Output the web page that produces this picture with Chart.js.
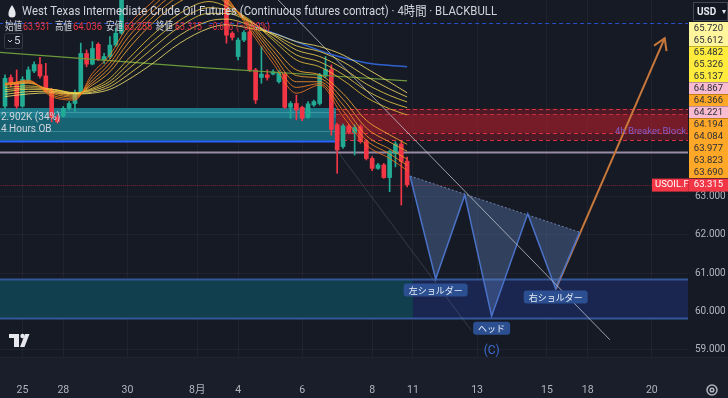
<!DOCTYPE html>
<html>
<head>
<meta charset="utf-8">
<script src="https://cdn.jsdelivr.net/npm/chart.js@4.4.0/dist/chart.umd.min.js"></script>
<style>
html, body { margin: 0; padding: 0; background: #161a25; }
#grafico { display: block; }
</style>
</head>
<body>
<canvas id="grafico" width="728" height="398"></canvas>
<script>
// Velas de 4 horas (null = fora da área visível)
const abertura = [65.37, 66.12, 65.98, 65.37, 66.05, 66.29, 66.46, 66.16, 65.78, 65.08, 65.11, 65.31, 65.44, 65.72, 66.75, 66.47, 66.99, 66.58, 66.67, 66.97, 67.28,
    null, null, null, null, null, null, null, null, null, null, null, null, null, null, null, null, null,
    68.40, 67.28, 66.67, 67.10, 67.32, 66.32, 66.12, 66.19, 66.21, 66.01, 66.21, 65.34, 65.44, 65.34, 65.08, 65.40, 65.44, 66.16, 66.33, 64.88, 64.31, 64.85, 64.68, 64.83, 64.44, 64.00, 63.74, 63.83, 63.50, 64.12, 64.38, 63.931];
const maxima = [66.19, 66.19, 66.32, 66.14, 66.40, 66.53, 66.65, 66.49, 65.84, 65.14, 65.36, 65.49, 65.79, 67.02, 66.84, 67.06, 67.03, 66.75, 67.19, 67.41, 68.50,
    null, null, null, null, null, null, null, null, null, null, null, null, null, null, null, null, null,
    68.60, 67.32, 67.15, 67.35, 67.45, 66.36, 66.93, 66.32, 66.32, 66.30, 66.25, 65.49, 65.66, 65.37, 65.49, 65.53, 66.23, 66.67, 66.45, 64.92, 64.90, 64.90, 64.88, 64.88, 64.48, 64.05, 63.87, 63.87, 64.22, 64.44, 64.44, 64.036];
const minima = [65.31, 65.88, 65.31, 65.34, 66.01, 66.25, 66.10, 65.75, 64.96, 64.92, 65.08, 65.27, 65.23, 65.71, 66.40, 66.45, 66.56, 66.49, 66.62, 66.93, 67.25,
    null, null, null, null, null, null, null, null, null, null, null, null, null, null, null, null, null,
    67.02, 67.10, 66.58, 67.06, 66.27, 65.44, 65.97, 66.05, 66.19, 65.97, 65.31, 65.05, 65.01, 64.99, 65.05, 65.36, 65.40, 66.12, 64.61, 63.61, 64.26, 64.64, 64.09, 64.40, 63.96, 63.68, 63.71, 63.48, 63.13, 63.78, 62.78, 63.255];
const fechamento = [66.10, 65.97, 65.37, 66.07, 66.32, 66.46, 66.16, 65.78, 65.08, 64.96, 65.31, 65.44, 65.72, 66.75, 66.47, 66.88, 66.60, 66.67, 66.97, 67.28, 68.35,
    null, null, null, null, null, null, null, null, null, null, null, null, null, null, null, null, null,
    67.23, 67.17, 67.10, 67.30, 66.32, 65.53, 66.21, 66.12, 66.27, 66.25, 65.34, 65.44, 65.27, 65.05, 65.43, 65.49, 66.19, 66.33, 64.76, 64.22, 64.85, 64.68, 64.81, 64.44, 64.00, 63.74, 63.83, 63.50, 64.18, 64.38, 63.92, 63.315];

// Eixos
const rotulosDatas = ['25', '28', '30', '8月', '4', '6', '8', '11', '13', '15', '18', '20'];
const posicoesDatas = [3, 10, 21, 33, 40, 51, 63, 70, 81, 93, 100, 111];
const ticksPreco = [59, 60, 61, 62, 63];

// Fita de médias móveis
const fitaIdx = [0, 4, 8, 12, 15, 18, 21, 25, 30, 35, 38, 42, 46, 50, 54, 58, 62, 66, 69];
const fitaLaranja1 = [65.92, 66.05, 65.62, 65.53, 66.23, 66.71, 67.45, 68.06, 68.67, 68.76, 68.24, 67.36, 66.49, 65.71, 65.92, 65.10, 64.35, 64.00, 63.69];
const fitaLaranja2 = [65.95, 66.03, 65.66, 65.56, 66.14, 66.60, 67.30, 67.93, 68.54, 68.68, 68.20, 67.43, 66.60, 65.86, 65.96, 65.25, 64.48, 64.12, 63.82];
const fitaLaranja3 = [65.97, 66.01, 65.71, 65.60, 66.05, 66.49, 67.15, 67.80, 68.41, 68.59, 68.15, 67.50, 66.71, 66.01, 66.01, 65.40, 64.60, 64.25, 63.98];
const fitaLaranja4 = [65.94, 65.99, 65.75, 65.63, 65.98, 66.38, 67.00, 67.65, 68.26, 68.48, 68.10, 67.54, 66.82, 66.17, 66.10, 65.55, 64.80, 64.43, 64.19];
const fitaLaranja5 = [65.92, 65.97, 65.78, 65.66, 65.92, 66.27, 66.84, 67.50, 68.11, 68.37, 68.06, 67.58, 66.93, 66.32, 66.19, 65.70, 65.00, 64.62, 64.37];
const fitaAmarela1 = [65.86, 65.90, 65.81, 65.71, 65.84, 66.10, 66.58, 67.19, 67.80, 68.11, 67.98, 67.63, 67.10, 66.58, 66.40, 66.05, 65.60, 65.30, 65.14];
const fitaAmarela2 = [65.80, 65.85, 65.81, 65.71, 65.81, 66.02, 66.45, 67.02, 67.62, 67.95, 67.89, 67.60, 67.16, 66.71, 66.53, 66.20, 65.78, 65.48, 65.33];
const fitaAmarela3 = [65.75, 65.81, 65.81, 65.72, 65.78, 65.95, 66.32, 66.84, 67.45, 67.80, 67.80, 67.58, 67.23, 66.84, 66.67, 66.36, 65.95, 65.65, 65.48];
const fitaAmarela4 = [65.68, 65.75, 65.76, 65.70, 65.74, 65.88, 66.18, 66.64, 67.23, 67.60, 67.65, 67.49, 67.25, 66.95, 66.80, 66.53, 66.15, 65.82, 65.61];
const fitaAmarela5 = [65.62, 65.69, 65.72, 65.69, 65.71, 65.81, 66.05, 66.45, 67.02, 67.41, 67.50, 67.41, 67.28, 67.06, 66.93, 66.71, 66.36, 66.00, 65.72];

// Média azul e linha verde
const azulIdx = [42, 46, 56.3, 62.1, 69];
const azulPreco = [67.50, 67.29, 66.71, 66.50, 66.40];
const verdeIdx = [-1, 34.6, 56.3, 69];
const verdePreco = [66.78, 66.37, 66.16, 66.03];

// Linhas de tendência
const tendBrancaIdx = [44, 103.8];
const tendBrancaPreco = [68.60, 59.25];
const tendEscuraIdx = [56.5, 80];
const tendEscuraPreco = [64.30, 59.50];

// Ombro-cabeça-ombro
const ocoIdx = [69.5, 73.9, 78.9, 83.5, 89.7, 94.5, 98.6];
const ocoPreco = [63.54, 60.84, 63.04, 59.87, 62.55, 60.58, 62.07];
const ocoRotulos = ['左ショルダー', 'ヘッド', '右ショルダー'];
const setaIdx = [94.5, 113.2];
const setaPreco = [60.58, 67.15];

// Zonas: [início, fim, topo, base]
const zonaOB = [-1, 56.8, 65.32, 64.46];
const zonaBreaker = [56.8, 118, 65.30, 64.48];
const zonaBreakerMeio = [56.8, 118, 65.16, 64.67];
const zonaAzulEsq = [-1, 70, 60.84, 59.82];
const zonaAzulDir = [70, 118, 60.84, 59.82];
const linhaLilas = 64.18;
const linhaTracejadaAzul = 67.54;

// Etiquetas do eixo de preço
const etiquetasValores = ['65.720', '65.612', '65.482', '65.326', '65.137', '64.867', '64.366', '64.221', '64.194', '64.084', '63.977', '63.823', '63.690'];
const etiquetasCores = ['#fff59d', '#fff59d', '#ffeb3b', '#ffeb3b', '#ffeb3b', '#f8bbd0', '#ffa726', '#f8bbd0', '#ffa726', '#ffa726', '#ffa726', '#ffa726', '#ffa726'];

// Cabeçalho: [texto, x, largura, cor]
const legendaOHLC = [
    ['始値', 5, 17, '#d1d4dc'], ['63.931', 23, 27, '#f23645'],
    ['高値', 55, 17, '#d1d4dc'], ['64.036', 73, 29, '#f23645'],
    ['安値', 106, 17, '#d1d4dc'], ['63.255', 124, 28, '#f23645'],
    ['終値', 156, 17, '#d1d4dc'], ['63.315', 175, 27, '#f23645'],
    ['−0.636', 208, 25, '#f23645'], ['(−0.99%)', 236, 34, '#f23645']
];

const VERDE = '#22ab94';
const VERMELHO = '#f23645';
const FONTE = 'Roboto, "Noto Sans CJK JP", sans-serif';

// Monta velas
const velas = [];
for (let i = 0; i < abertura.length; i++) {
    if (abertura[i] === null) continue;
    velas.push({ i: i, o: abertura[i], h: maxima[i], l: minima[i], c: fechamento[i] });
}
const pavios = velas.map(v => ({ x: v.i, y: [v.l, v.h], sobe: v.c >= v.o }));
const corpos = velas.map(v => ({ x: v.i, y: [v.o, v.c], sobe: v.c >= v.o }));

function pontos(xs, ys) {
    return xs.map((x, k) => ({ x: x, y: ys[k] }));
}

function linha(xs, ys, cor, largura, extra) {
    return Object.assign({
        type: 'line',
        data: pontos(xs, ys),
        borderColor: cor,
        borderWidth: largura,
        pointRadius: 0,
        fill: false,
        tension: 0,
        order: 2
    }, extra || {});
}

function fita(ys, cor) {
    return linha(fitaIdx, ys, cor, 1, { cubicInterpolationMode: 'monotone', order: 1 });
}

// Zera o espaço extra que o Chart.js reserva para os rótulos
function semPadding(s) {
    s.paddingTop = 0;
    s.paddingBottom = 0;
    s.paddingLeft = 0;
    s.paddingRight = 0;
}

// Fundo e faixa do eixo de tempo
const pluginFundo = {
    id: 'fundo',
    beforeDraw(chart) {
        const { ctx, chartArea: a } = chart;
        ctx.save();
        ctx.fillStyle = '#161a25';
        ctx.fillRect(0, 0, chart.width, chart.height);
        ctx.fillStyle = '#1a1e2a';
        ctx.fillRect(0, a.bottom, chart.width, chart.height - a.bottom);
        ctx.fillStyle = '#20242f';
        ctx.fillRect(0, a.bottom, chart.width, 1);
        ctx.restore();
    }
};

// Zonas e linhas horizontais
const pluginZonas = {
    id: 'zonas',
    beforeDatasetsDraw(chart) {
        const { ctx, chartArea: a, scales: { x, y } } = chart;
        const px = v => x.getPixelForValue(v);
        const py = v => y.getPixelForValue(v);
        ctx.save();
        ctx.beginPath();
        ctx.rect(a.left, a.top, a.width, a.height);
        ctx.clip();

        function caixa(z, cor) {
            ctx.fillStyle = cor;
            ctx.fillRect(px(z[0]), py(z[2]), px(z[1]) - px(z[0]), py(z[3]) - py(z[2]));
        }
        function horiz(x0, x1, p, cor, larg, traco) {
            ctx.strokeStyle = cor;
            ctx.lineWidth = larg;
            ctx.setLineDash(traco || []);
            ctx.beginPath();
            ctx.moveTo(px(x0), Math.round(py(p)) + 0.5);
            ctx.lineTo(px(x1), Math.round(py(p)) + 0.5);
            ctx.stroke();
            ctx.setLineDash([]);
        }

        // caixa azul inferior
        caixa(zonaAzulEsq, '#123f4d');
        caixa(zonaAzulDir, '#1a2650');
        horiz(-1, 118, zonaAzulEsq[2], '#34579a', 2);
        horiz(-1, 118, zonaAzulEsq[3], '#34579a', 2);

        // order block
        caixa(zonaOB, '#176273');
        caixa([zonaOB[0], zonaOB[1], zonaOB[2], 65.06], '#1d7a8a');
        horiz(zonaOB[0], zonaOB[1], 65.22, 'rgba(120,210,220,0.35)', 1);
        horiz(zonaOB[0], zonaOB[1], 64.73, 'rgba(120,210,220,0.35)', 1);
        horiz(zonaOB[0], zonaOB[1], 64.46, '#2962ff', 2);

        // breaker block
        caixa(zonaBreaker, 'rgba(150,25,40,0.45)');
        caixa(zonaBreakerMeio, 'rgba(190,35,50,0.35)');
        horiz(zonaBreaker[0], zonaBreaker[1], zonaBreaker[2], 'rgba(242,54,69,0.85)', 1, [4, 3]);
        horiz(zonaBreaker[0], zonaBreaker[1], zonaBreakerMeio[2], 'rgba(242,54,69,0.7)', 1, [4, 3]);
        horiz(zonaBreaker[0], zonaBreaker[1], zonaBreakerMeio[3], 'rgba(242,54,69,0.85)', 1, [4, 3]);
        horiz(zonaBreaker[0], zonaBreaker[1], zonaBreaker[3], 'rgba(242,54,69,0.85)', 1, [4, 3]);

        // linhas horizontais
        horiz(-1, 118, linhaLilas, '#9a8aa6', 2);
        horiz(-1, 118, linhaTracejadaAzul, 'rgba(41,98,255,0.75)', 1, [4, 3]);
        horiz(-1, 118, fechamento[fechamento.length - 1], 'rgba(242,54,69,0.45)', 1, [1, 1]);
        ctx.restore();
    }
};

// Textos, etiquetas e logotipo
const pluginTextos = {
    id: 'textos',
    afterDraw(chart) {
        const { ctx, chartArea: a, scales: { x, y } } = chart;
        const px = v => x.getPixelForValue(v);
        const py = v => y.getPixelForValue(v);
        ctx.save();

        // textos do order block e breaker
        ctx.font = '10px ' + FONTE;
        ctx.fillStyle = '#d1d4dc';
        ctx.textBaseline = 'middle';
        ctx.textAlign = 'left';
        ctx.fillText('2.902K (34%)', 1, 117);
        ctx.fillText('4 Hours OB', 1, 129);
        ctx.font = '9.5px ' + FONTE;
        ctx.fillStyle = '#7e5cc8';
        ctx.textAlign = 'right';
        ctx.fillText('4h Breaker Block', a.right - 2, py(64.68) - 1);

        // seta laranja
        const x1 = px(setaIdx[1]), y1 = py(setaPreco[1]);
        const ang = Math.atan2(y1 - py(setaPreco[0]), x1 - px(setaIdx[0]));
        ctx.strokeStyle = '#c8783a';
        ctx.lineWidth = 2;
        ctx.beginPath();
        ctx.moveTo(x1 - 13 * Math.cos(ang - 0.55), y1 - 13 * Math.sin(ang - 0.55));
        ctx.lineTo(x1, y1);
        ctx.lineTo(x1 - 13 * Math.cos(ang + 0.55), y1 - 13 * Math.sin(ang + 0.55));
        ctx.stroke();

        // rótulos do padrão
        const desloc = [11, 12, 8];
        const pontosRotulo = [1, 3, 5];
        ctx.font = '9px "Noto Sans CJK JP", sans-serif';
        ctx.textAlign = 'center';
        pontosRotulo.forEach((k, n) => {
            const cx = px(ocoIdx[k]), cy = py(ocoPreco[k]) + desloc[n];
            const w = ctx.measureText(ocoRotulos[n]).width + 10;
            ctx.fillStyle = '#2b4f90';
            ctx.beginPath();
            ctx.roundRect(cx - w / 2, cy - 6.5, w, 13, 3);
            ctx.fill();
            ctx.fillStyle = '#e8ecf5';
            ctx.fillText(ocoRotulos[n], cx, cy + 0.5);
        });
        ctx.font = '12px ' + FONTE;
        ctx.fillStyle = '#3f6fd8';
        ctx.fillText('(C)', px(ocoIdx[3]), py(ocoPreco[3]) + 35);

        // cabeçalho
        ctx.textAlign = 'left';
        ctx.fillStyle = '#e6e8ee';
        ctx.beginPath();
        ctx.moveTo(12, 5);
        ctx.quadraticCurveTo(8, 11, 8.5, 14);
        ctx.arc(12, 14, 3.6, Math.PI, 0, true);
        ctx.quadraticCurveTo(16, 11, 12, 5);
        ctx.fill();
        ctx.font = '13px ' + FONTE;
        ctx.fillStyle = '#d1d4dc';
        ctx.fillText('West Texas Intermediate Crude Oil Futures (Continuous futures contract) · 4時間 · BLACKBULL', 22, 12, 475);

        ctx.font = '11.5px ' + FONTE;
        legendaOHLC.forEach(it => {
            ctx.fillStyle = it[3];
            ctx.fillText(it[0], it[1], 27, it[2]);
        });

        ctx.strokeStyle = '#363a45';
        ctx.lineWidth = 1;
        ctx.beginPath();
        ctx.roundRect(4.5, 33.5, 18, 15, 2);
        ctx.stroke();
        ctx.strokeStyle = '#d1d4dc';
        ctx.beginPath();
        ctx.moveTo(8, 40);
        ctx.lineTo(10, 42);
        ctx.lineTo(12, 40);
        ctx.stroke();
        ctx.fillStyle = '#d1d4dc';
        ctx.fillText('5', 14, 41);

        // etiquetas do eixo de preço
        const ex = a.right + 1, ew = chart.width - ex;
        ctx.font = '9.5px ' + FONTE;
        ctx.textAlign = 'right';
        etiquetasValores.forEach((v, k) => {
            const topo = 22 + k * 12;
            ctx.fillStyle = etiquetasCores[k];
            ctx.fillRect(ex, topo, ew, 12);
            if (k > 0 && etiquetasCores[k] !== etiquetasCores[k - 1]) {
                ctx.fillStyle = 'rgba(0,0,0,0.25)';
                ctx.fillRect(ex, topo, ew, 1);
            }
            ctx.fillStyle = '#2a2e39';
            ctx.fillText(v, chart.width - 5, topo + 6.5);
        });

        // etiqueta do preço atual
        const yp = py(fechamento[fechamento.length - 1]);
        ctx.fillStyle = VERMELHO;
        ctx.fillRect(652, yp - 6, chart.width - 652, 13);
        ctx.fillStyle = 'rgba(0,0,0,0.15)';
        ctx.fillRect(ex - 1, yp - 6, 1, 13);
        ctx.fillStyle = '#ffffff';
        ctx.textAlign = 'left';
        ctx.fillText('USOIL.F', 655, yp + 0.5);
        ctx.textAlign = 'right';
        ctx.fillText('63.315', chart.width - 5, yp + 0.5);

        // caixa USD
        ctx.fillStyle = '#131722';
        ctx.fillRect(693, 2, 35, 19);
        ctx.strokeStyle = '#434651';
        ctx.strokeRect(693.5, 2.5, 34, 18);
        ctx.fillStyle = '#e6e8ee';
        ctx.font = 'bold 10px ' + FONTE;
        ctx.textAlign = 'left';
        ctx.fillText('USD', 697, 12);
        ctx.font = '8px ' + FONTE;
        ctx.fillText('▾', 722, 12);

        // logotipo TV
        ctx.fillStyle = '#e6e8ee';
        ctx.fillRect(9, 334, 10, 4);
        ctx.fillRect(14, 334, 5, 13);
        ctx.beginPath();
        ctx.arc(22.5, 336, 2.2, 0, Math.PI * 2);
        ctx.fill();
        ctx.beginPath();
        ctx.moveTo(25, 334);
        ctx.lineTo(29.5, 334);
        ctx.lineTo(24.5, 347);
        ctx.lineTo(20, 347);
        ctx.closePath();
        ctx.fill();

        // engrenagem
        ctx.strokeStyle = '#b2b5be';
        ctx.lineWidth = 1.5;
        ctx.beginPath();
        ctx.arc(712, 390, 5, 0, Math.PI * 2);
        ctx.stroke();
        ctx.beginPath();
        ctx.arc(712, 390, 1.8, 0, Math.PI * 2);
        ctx.stroke();
        ctx.restore();
    }
};

new Chart(document.getElementById('grafico').getContext('2d'), {
    type: 'bar',
    data: {
        datasets: [
            fita(fitaLaranja1, 'rgba(235,115,30,0.85)'),
            fita(fitaLaranja2, 'rgba(238,130,35,0.85)'),
            fita(fitaLaranja3, 'rgba(240,145,40,0.85)'),
            fita(fitaLaranja4, 'rgba(243,158,45,0.85)'),
            fita(fitaLaranja5, 'rgba(245,170,50,0.85)'),
            fita(fitaAmarela1, 'rgba(240,200,60,0.8)'),
            fita(fitaAmarela2, 'rgba(242,208,70,0.8)'),
            fita(fitaAmarela3, 'rgba(245,215,80,0.8)'),
            fita(fitaAmarela4, 'rgba(247,222,95,0.8)'),
            fita(fitaAmarela5, 'rgba(250,230,110,0.8)'),
            linha(azulIdx, azulPreco, '#2f62d0', 1.5, { cubicInterpolationMode: 'monotone' }),
            linha(verdeIdx, verdePreco, '#6c9a3a', 1.2),
            linha(tendBrancaIdx, tendBrancaPreco, 'rgba(200,204,214,0.75)', 1),
            linha(tendEscuraIdx, tendEscuraPreco, 'rgba(110,120,140,0.35)', 1),
            // preenchimento do padrão
            linha(ocoIdx.concat([ocoIdx[0]]), ocoPreco.concat([ocoPreco[0]]), 'rgba(0,0,0,0)', 0,
                { fill: 'shape', backgroundColor: 'rgba(110,145,210,0.32)', order: 4 }),
            linha(ocoIdx, ocoPreco, '#4a72c8', 1.5, { order: 3 }),
            linha([ocoIdx[0], ocoIdx[6]], [ocoPreco[0], ocoPreco[6]], 'rgba(130,150,200,0.8)', 1, { borderDash: [2, 2], order: 3 }),
            linha(setaIdx, setaPreco, '#c8783a', 2, { order: 3 }),
            {
                data: pavios,
                barThickness: 1,
                backgroundColor: ctx => (ctx.raw && ctx.raw.sobe) ? VERDE : VERMELHO,
                grouped: false,
                order: 5
            },
            {
                data: corpos,
                barThickness: 4,
                minBarLength: 1,
                backgroundColor: ctx => (ctx.raw && ctx.raw.sobe) ? VERDE : VERMELHO,
                grouped: false,
                order: 5
            }
        ]
    },
    options: {
        responsive: false,
        animation: false,
        layout: { padding: 0 },
        plugins: {
            legend: { display: false },
            tooltip: { enabled: false }
        },
        scales: {
            x: {
                type: 'linear',
                min: -0.86,
                max: 117.2,
                offset: false,
                afterFit: s => { s.height = 41; semPadding(s); },
                afterBuildTicks: s => { s.ticks = posicoesDatas.map(v => ({ value: v })); },
                grid: { color: 'rgba(255,255,255,0.045)', drawTicks: false, offset: false },
                border: { display: false },
                ticks: {
                    autoSkip: false,
                    maxRotation: 0,
                    padding: 27,
                    color: '#b2b5be',
                    font: { size: 10.5, family: FONTE },
                    callback: v => rotulosDatas[posicoesDatas.indexOf(v)]
                }
            },
            y: {
                type: 'linear',
                position: 'right',
                min: 58.80,
                max: 68.15,
                beginAtZero: false,
                afterFit: s => { s.width = 40; semPadding(s); },
                afterBuildTicks: s => { s.ticks = ticksPreco.map(v => ({ value: v })); },
                grid: { color: 'rgba(255,255,255,0.045)', drawTicks: false },
                border: { display: false },
                ticks: {
                    padding: 7,
                    color: '#b2b5be',
                    font: { size: 10, family: FONTE },
                    callback: v => v.toFixed(3)
                }
            }
        }
    },
    plugins: [pluginFundo, pluginZonas, pluginTextos]
});
</script>
</body>
</html>
